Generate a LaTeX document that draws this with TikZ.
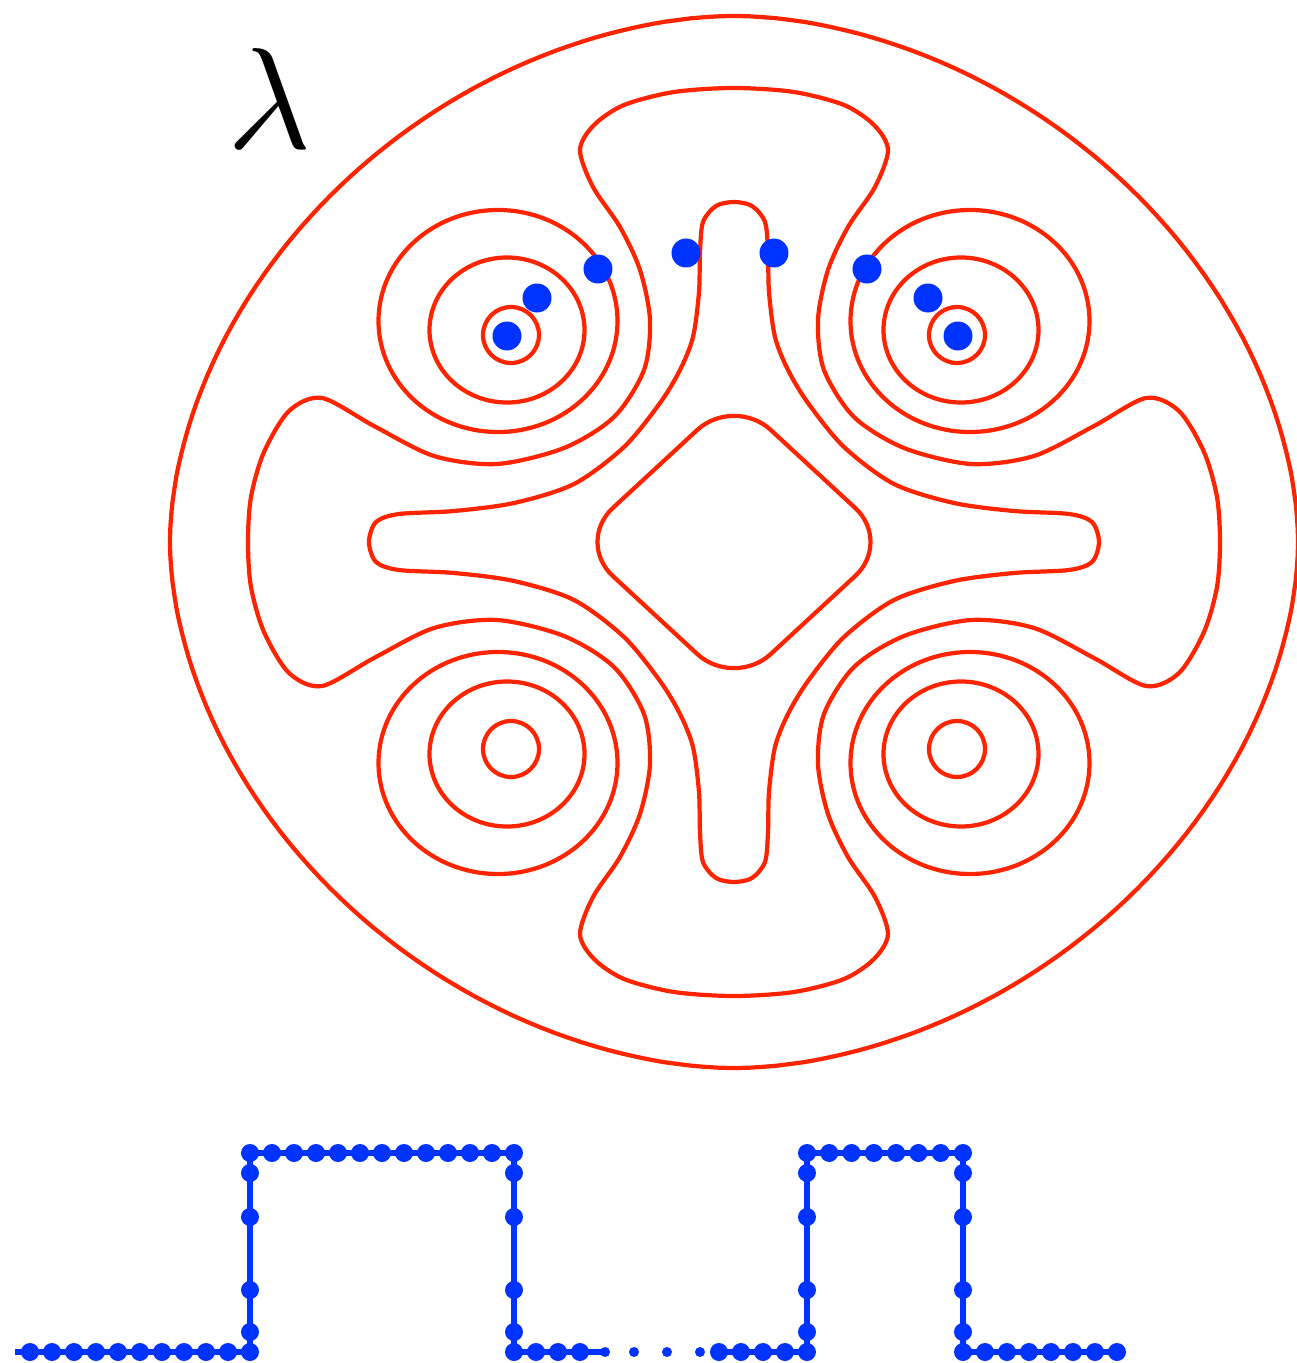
\documentclass[tikz,border=0pt]{standalone}
\usetikzlibrary{calc}

\definecolor{levelred}{RGB}{255,36,0}
\definecolor{zeroblue}{RGB}{0,51,255}

\begin{document}
\begin{tikzpicture}[
  x=0.02cm, y=0.02cm,
  level/.style={draw=levelred, line width=2.4pt, line join=round},
  zero/.style={fill=zeroblue},
  wave/.style={draw=zeroblue, line width=3.2pt},
]
\useasboundingbox (-734,-821) rectangle (562,542);

% label
\node[scale=8.2] (lambda) at (-464,444) {$\lambda$};

% outer level line (a slightly squared ellipse)
\draw[level] plot[domain=0.75:359.25, samples=240]
  ({564*sign(cos(\x))*abs(cos(\x))^1.081}, {526*sign(sin(\x))*abs(sin(\x))^1.081}) -- cycle;

% four-lobed level line (bulbs top/bottom, wings left/right)
\draw[level] plot[smooth cycle] coordinates {
  (0,454) (-60,450) (-110,437) (-140,417) (-154,392) (-141,355) (-114,315) (-94,272) (-84,222) (-90,172)
  (-120,125) (-170,94) (-237,78) (-300,86) (-360,116) (-412,144) (-445,131) (-470,90) (-483,45)
  (-486,0)
  (-483,-45) (-470,-90) (-445,-131) (-412,-144) (-360,-116) (-300,-86) (-237,-78) (-170,-94)
  (-120,-125) (-90,-172) (-84,-222) (-94,-272) (-114,-315) (-141,-355) (-154,-392) (-140,-417) (-110,-437)
  (-60,-450) (0,-454)
  (60,-450) (110,-437) (140,-417) (154,-392) (141,-355) (114,-315) (94,-272) (84,-222) (90,-172)
  (120,-125) (170,-94) (237,-78) (300,-86) (360,-116) (412,-144) (445,-131) (470,-90) (483,-45)
  (486,0)
  (483,45) (470,90) (445,131) (412,144) (360,116) (300,86) (237,78) (170,94)
  (120,125) (90,172) (84,222) (94,272) (114,315) (141,355) (154,392) (140,417) (110,437) (60,450)};

% cross with stems and arms
\draw[level] plot[smooth cycle] coordinates {
  (0,340) (-18,336) (-31,320) (-34,290) (-35,250) (-41,205) (-54,172) (-74,139) (-110,95) (-160,58)
  (-220,39) (-280,31) (-335,28) (-358,20) (-365,0)
  (-358,-20) (-335,-28) (-280,-31) (-220,-39) (-160,-58) (-110,-95) (-74,-139) (-54,-172)
  (-41,-205) (-35,-250) (-34,-290) (-31,-320) (-18,-336) (0,-340)
  (18,-336) (31,-320) (34,-290) (35,-250) (41,-205) (54,-172) (74,-139) (110,-95) (160,-58)
  (220,-39) (280,-31) (335,-28) (358,-20) (365,0)
  (358,20) (335,28) (280,31) (220,39) (160,58) (110,95) (74,139) (54,172)
  (41,205) (35,250) (34,290) (31,320) (18,336)};

% central diamond
\draw[level, rounded corners=1cm] (0,146) -- (-158,0) -- (0,-146) -- (158,0) -- cycle;

% rings round the four wells
\foreach \sx/\sy in {1/1,-1/1,1/-1,-1/-1} {
  \begin{scope}[xscale=\sx, yscale=\sy]
    \draw[level] (-236,221) ellipse[x radius=119.5, y radius=111];
    \draw[level] (-227,212) ellipse[x radius=77.5, y radius=72.5];
    \draw[level] (-223,207) circle[radius=28];
  \end{scope}
}

% zeros
\foreach \u/\v in {-227/206, -197/244, -136/273, -48/289, 40/289, 133/273, 194/244, 224/206}
  \fill[zero] (\u,\v) circle[radius=14.5];

% step signal
\draw[wave] (-719,-810) -- (-484,-810) -- (-484,-611) -- (-220,-611) -- (-220,-810) -- (-129,-810);
\draw[wave] (-15,-810) -- (73,-810) -- (73,-611) -- (229,-611) -- (229,-810) -- (383,-810);
\foreach \k in {0,...,10} \fill[zero] ({-484-22*\k},-810) circle[radius=9];
\foreach \k in {0,...,12} \fill[zero] ({-484+22*\k},-611) circle[radius=9];
\foreach \k in {0,...,3} \fill[zero] ({-220+22*\k},-810) circle[radius=9];
\foreach \k in {0,...,4} \fill[zero] ({-15+22*\k},-810) circle[radius=9];
\foreach \k in {0,...,7} \fill[zero] ({73+156/7*\k},-611) circle[radius=9];
\foreach \k in {0,...,7} \fill[zero] ({229+22*\k},-810) circle[radius=9];
\foreach \u in {-484,-220,73,229}
  \foreach \v in {-631,-675,-748,-790}
    \fill[zero] (\u,\v) circle[radius=9];
\foreach \u in {-129,-100,-67,-34} \fill[zero] (\u,-810) circle[radius=5];

\end{tikzpicture}
\end{document}
